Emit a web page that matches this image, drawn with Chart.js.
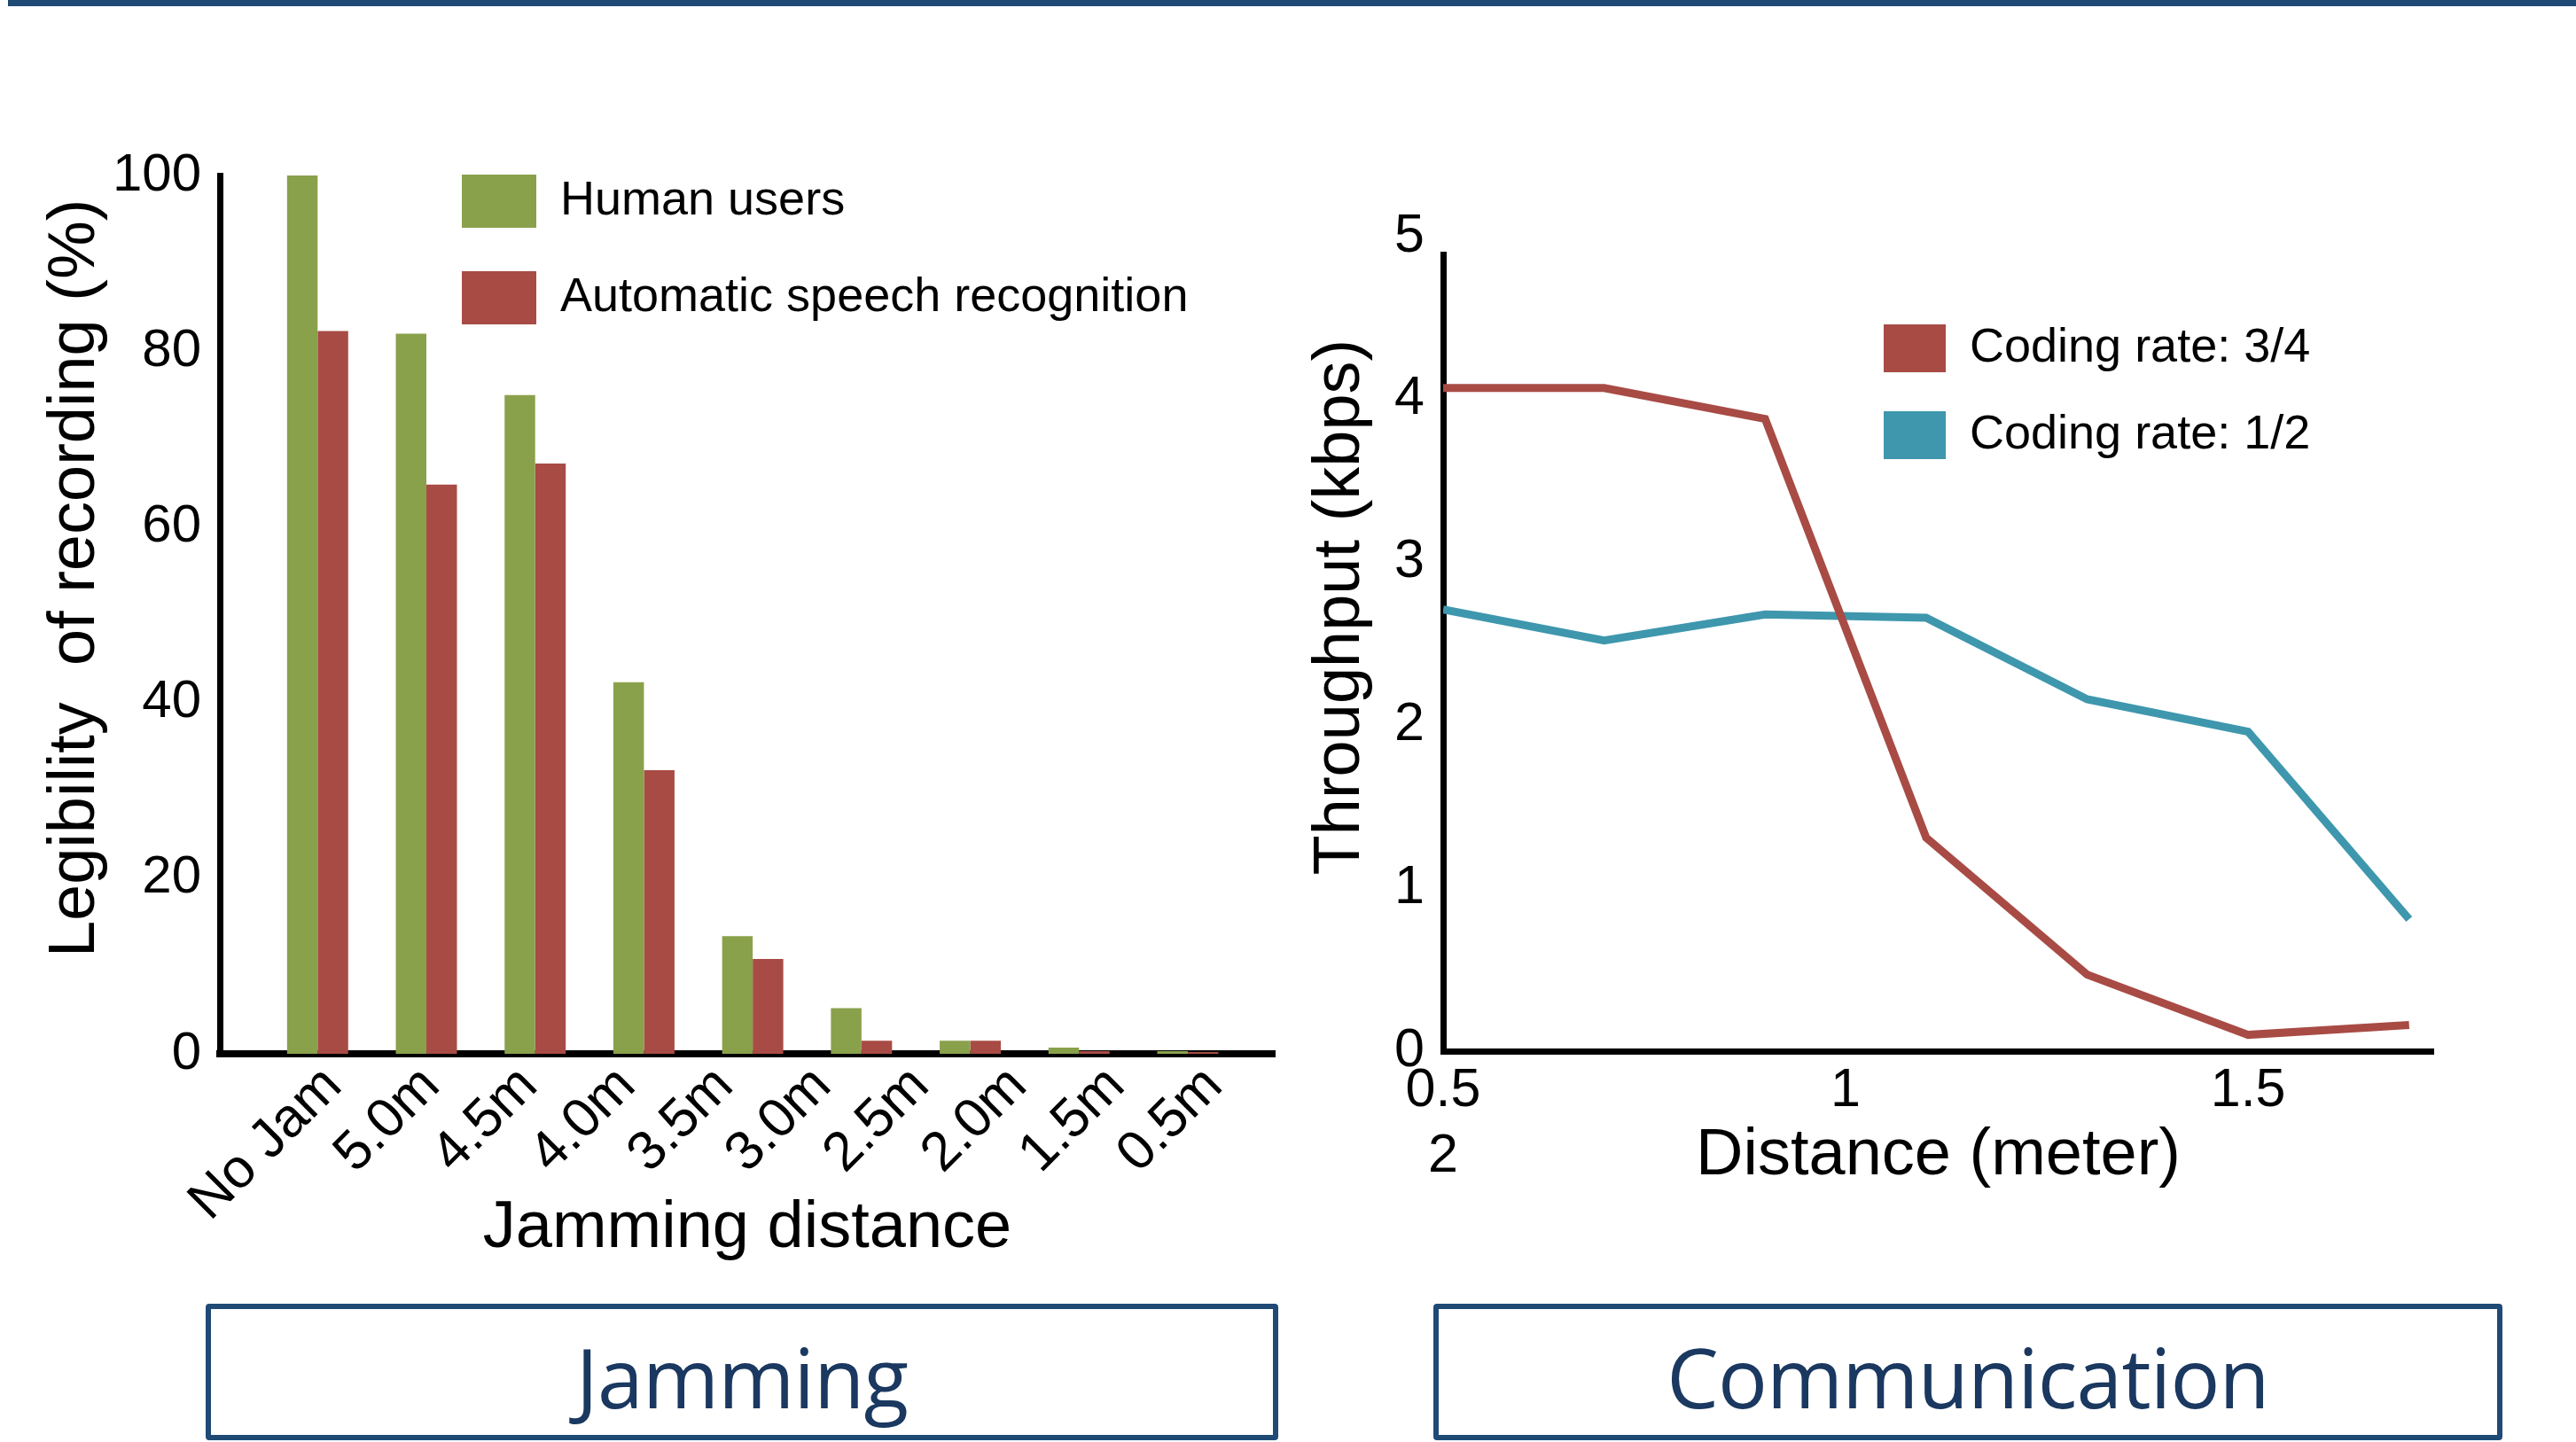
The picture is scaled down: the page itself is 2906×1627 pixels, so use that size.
<!DOCTYPE html>
<html lang="en">
<head>
<meta charset="UTF-8">
<script src="https://cdn.jsdelivr.net/npm/chart.js"></script>
<style>
  html, body { margin: 0; padding: 0; background: #fff; }
  body { width: 2906px; height: 1627px; position: relative; overflow: hidden; }
  canvas { position: absolute; left: 0; top: 0; }
  .topbar { position: absolute; left: 9px; top: 0; width: 2897px; height: 7px; background: #1f4a75; }
  .caption { position: absolute; top: 1471px; height: 154px; box-sizing: border-box;
             border: 6px solid #1f4a75; border-radius: 4px; }
  .caption span { position: absolute; left: 0; right: 0; top: 30px; line-height: 93px; text-align: center;
                  font-family: 'Open Sans', sans-serif; font-size: 93px; letter-spacing: -0.8px; color: #1a3860; }
</style>
</head>
<body>
<div class="topbar"></div>
<canvas id="jamChart" width="2906" height="1627"></canvas>
<canvas id="commChart" width="2906" height="1627"></canvas>
<div class="caption" style="left:232px;width:1210px"><span>Jamming</span></div>
<div class="caption" style="left:1617px;width:1206px"><span>Communication</span></div>
<script>
// left chart: legibility vs jamming distance
const jamLabels = ['No Jam', '5.0m', '4.5m', '4.0m', '3.5m', '3.0m', '2.5m', '2.0m', '1.5m', '0.5m']
const humanUsers = [100, 82.0, 75.0, 42.3, 13.4, 5.2, 1.5, 0.7, 0.3]
const speechRecognition = [82.3, 64.8, 67.2, 32.3, 10.8, 1.5, 1.5, 0.3, 0.2]
const legibilityTicks = [0, 20, 40, 60, 80, 100]

// right chart: throughput vs distance
const distances = [0.5, 0.7, 0.9, 1.1, 1.3, 1.5, 1.7]
const rate34 = [4.07, 4.07, 3.88, 1.31, 0.47, 0.10, 0.16]
const rate12 = [2.71, 2.52, 2.68, 2.66, 2.16, 1.96, 0.81]
const throughputTicks = [0, 1, 2, 3, 4, 5]
const distanceTicks = [0.5, 1, 1.5]
const distanceTickLabels = [['0.5', '2'], '1', '1.5']

const GREEN = '#8aa14b'
const RED = '#a84b45'
const TEAL = '#3e97ad'

Chart.defaults.font.family = "'Liberation Sans', Arial, sans-serif"
Chart.defaults.color = '#000'

// move the built-in legend to a fixed spot inside the plot
const legendSpot = {
  id: 'legendSpot',
  afterLayout(chart, args, opts) {
    const lg = chart.legend
    const w = lg.right - lg.left, h = lg.bottom - lg.top
    lg.left = opts.left; lg.top = opts.top
    lg.right = opts.left + w; lg.bottom = opts.top + h
  }
}

const noBorderLabels = (chart) =>
  Chart.defaults.plugins.legend.labels.generateLabels(chart).map(l => ({ ...l, lineWidth: 0 }))

new Chart(document.getElementById('jamChart'), {
  type: 'bar',
  plugins: [legendSpot],
  data: {
    datasets: [{
      label: 'Human users',
      data: humanUsers.map((v, i) => ({ x: i, y: v })),
      backgroundColor: GREEN,
      borderWidth: 0,
      categoryPercentage: 0.562,
      barPercentage: 1
    }, {
      label: 'Automatic speech recognition',
      data: speechRecognition.map((v, i) => ({ x: i, y: v })),
      backgroundColor: RED,
      borderWidth: 0,
      categoryPercentage: 0.562,
      barPercentage: 1
    }]
  },
  options: {
    responsive: false,
    animation: false,
    devicePixelRatio: 1,
    layout: { padding: { left: 0, top: 198, right: 1468, bottom: 195.6 } },
    plugins: {
      tooltip: { enabled: false },
      legend: {
        position: 'chartArea',
        align: 'start',
        labels: { boxWidth: 84, boxHeight: 60, padding: 49, font: { size: 54 }, color: '#000',
                  generateLabels: noBorderLabels }
      },
      legendSpot: { left: 472, top: 148 }
    },
    scales: {
      x: {
        type: 'linear', position: 'bottom', weight: 0, offset: false,
        min: -0.899, max: 8.799,
        afterBuildTicks: s => { s.ticks = humanUsers.map((_, i) => ({ value: i })) },
        afterFit: s => { s.height = 0 },
        grid: { display: false, drawTicks: false },
        border: { color: '#000', width: 8 },
        ticks: { display: false }
      },
      x2: {
        type: 'linear', position: 'bottom', weight: 1, offset: false,
        min: -1.159, max: 9.62,
        afterBuildTicks: s => { s.ticks = jamLabels.map((_, i) => ({ value: i })) },
        afterFit: s => { s.height = 242.4 },
        grid: { display: false, drawTicks: false },
        border: { display: false },
        ticks: { autoSkip: false, minRotation: 45, maxRotation: 45, padding: 0,
                 font: { size: 62 }, callback: (v, i) => jamLabels[i] },
        title: { display: true, text: 'Jamming distance', font: { size: 74 }, padding: 0 }
      },
      y: {
        min: 0, max: 100,
        afterBuildTicks: s => { s.ticks = legibilityTicks.map(v => ({ value: v })) },
        afterFit: s => { s.width = 248 },
        grid: { display: false, drawTicks: false },
        border: { color: '#000', width: 7 },
        ticks: { padding: 21, font: { size: 60 } },
        title: { display: true, text: '    Legibility  of recording (%)', font: { size: 74 },
                 padding: { top: 41, bottom: 0 } }
      }
    }
  }
})

new Chart(document.getElementById('commChart'), {
  type: 'line',
  plugins: [legendSpot],
  data: {
    datasets: [{
      label: 'Coding rate: 3/4',
      data: distances.map((d, i) => ({ x: d, y: rate34[i] })),
      borderColor: RED,
      backgroundColor: RED,
      borderWidth: 9,
      pointRadius: 0,
      tension: 0
    }, {
      label: 'Coding rate: 1/2',
      data: distances.map((d, i) => ({ x: d, y: rate12[i] })),
      borderColor: TEAL,
      backgroundColor: TEAL,
      borderWidth: 9,
      pointRadius: 0,
      tension: 0
    }]
  },
  options: {
    responsive: false,
    animation: false,
    devicePixelRatio: 1,
    layout: { padding: { left: 1440, top: 287, right: 161, bottom: 277.6 } },
    plugins: {
      tooltip: { enabled: false },
      legend: {
        position: 'chartArea',
        align: 'start',
        labels: { boxWidth: 70, boxHeight: 54, padding: 44, font: { size: 54 }, color: '#000',
                  generateLabels: noBorderLabels }
      },
      legendSpot: { left: 2081, top: 322 }
    },
    scales: {
      x: {
        type: 'linear', min: 0.5, max: 1.73,
        afterBuildTicks: s => { s.ticks = distanceTicks.map(v => ({ value: v })) },
        afterFit: s => { s.height = 163.4 },
        grid: { display: false, drawTicks: false },
        border: { color: '#000', width: 7 },
        ticks: { autoSkip: false, maxRotation: 0, padding: 9, font: { size: 61 },
                 callback: (v, i) => distanceTickLabels[i] },
        title: { display: true, text: 'Distance (meter)', font: { size: 74 }, padding: 0 }
      },
      y: {
        min: 0, max: 4.89,
        afterBuildTicks: s => { s.ticks = throughputTicks.map(v => ({ value: v })) },
        afterFit: s => { s.width = 188 },
        grid: { display: false, drawTicks: false },
        border: { color: '#000', width: 7 },
        ticks: { padding: 21, font: { size: 61 } },
        title: { display: true, text: '     Throughput (kbps)', font: { size: 74 },
                 padding: { top: 28, bottom: 0 } }
      }
    }
  }
})
</script>
</body>
</html>
